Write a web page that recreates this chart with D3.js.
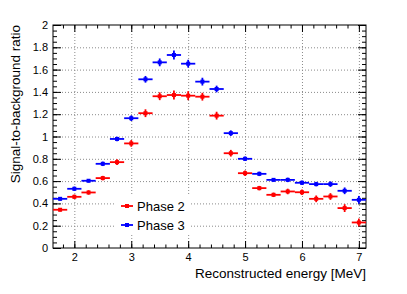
<!DOCTYPE html>
<html>
<head>
<meta charset="utf-8">
<script src="https://cdn.jsdelivr.net/npm/d3@7"></script>
<style>
  body { margin: 0; background: #fff; }
  svg text { font-family: "Liberation Sans", Arial, sans-serif; fill: #000; }
</style>
</head>
<body>
<div id="chart"></div>
<script>
const width = 407;
const height = 294;
const margin = { top: 25, right: 41, bottom: 46, left: 53 };

// bin centres [MeV], bin width 0.25
const energy = [1.75, 2.0, 2.25, 2.5, 2.75, 3.0, 3.25, 3.5, 3.75, 4.0, 4.25,
  4.5, 4.75, 5.0, 5.25, 5.5, 5.75, 6.0, 6.25, 6.5, 6.75, 7.0];
const binHalf = 0.125;

const phase2 = [0.343, 0.459, 0.498, 0.627, 0.770, 0.938, 1.209, 1.361, 1.372, 1.366, 1.357,
  1.187, 0.850, 0.671, 0.537, 0.477, 0.507, 0.500, 0.441, 0.462, 0.358, 0.229];
const phase2Err = [0.015, 0.02, 0.02, 0.02, 0.025, 0.03, 0.035, 0.035, 0.04, 0.04, 0.035,
  0.035, 0.03, 0.025, 0.02, 0.02, 0.025, 0.025, 0.03, 0.03, 0.035, 0.035];

const phase3 = [0.441, 0.531, 0.603, 0.755, 0.978, 1.164, 1.513, 1.665, 1.731, 1.653, 1.492,
  1.426, 1.030, 0.800, 0.665, 0.611, 0.611, 0.585, 0.573, 0.573, 0.513, 0.432];
const phase3Err = [0.015, 0.02, 0.015, 0.02, 0.02, 0.025, 0.03, 0.035, 0.04, 0.035, 0.035,
  0.03, 0.025, 0.02, 0.02, 0.015, 0.02, 0.02, 0.02, 0.025, 0.03, 0.035];

const xMajor = [2, 3, 4, 5, 6, 7];
const yMajor = [0, 0.2, 0.4, 0.6, 0.8, 1, 1.2, 1.4, 1.6, 1.8, 2];

const series = [
  { name: "Phase 2", color: "#ff0000", values: phase2, errors: phase2Err },
  { name: "Phase 3", color: "#0000ff", values: phase3, errors: phase3Err }
];

const x = d3.scaleLinear().domain([1.625, 7.125]).range([margin.left, width - margin.right]);
const y = d3.scaleLinear().domain([0, 2]).range([height - margin.bottom, margin.top]);

const xMinor = d3.range(1.8, 7.1, 0.2).map(v => +v.toFixed(1));
const yMinor = d3.range(0, 2.001, 0.05).map(v => +v.toFixed(2));

var svg = d3.select("#chart").append("svg")
  .attr("width", width)
  .attr("height", height);

const pLeft = x.range()[0], pRight = x.range()[1];
const pTop = y.range()[1], pBottom = y.range()[0];

// grid
svg.append("g")
  .attr("transform", `translate(0,${pBottom})`)
  .call(d3.axisBottom(x).tickValues(xMajor).tickSize(-(pBottom - pTop)).tickFormat(""))
  .call(g => g.select(".domain").remove())
  .selectAll("line")
  .attr("stroke", "#8a8a8a")
  .attr("stroke-dasharray", "1,2");

svg.append("g")
  .attr("transform", `translate(${pLeft},0)`)
  .call(d3.axisLeft(y).tickValues(yMajor.slice(1, -1)).tickSize(-(pRight - pLeft)).tickFormat(""))
  .call(g => g.select(".domain").remove())
  .selectAll("line")
  .attr("stroke", "#8a8a8a")
  .attr("stroke-dasharray", "1,2");

// legend background hides grid
svg.append("rect")
  .attr("x", 115).attr("y", 195)
  .attr("width", 75).attr("height", 38)
  .attr("fill", "#fff");

// axes ticks
function axisStyle(g) {
  g.select(".domain").remove();
  g.selectAll("line").attr("stroke", "#000").attr("stroke-width", 1);
  g.selectAll("text").style("font-size", "11px");
}

svg.append("g")
  .attr("transform", `translate(0,${pBottom})`)
  .call(d3.axisBottom(x).tickValues(xMinor).tickSize(-3.5).tickFormat(""))
  .call(axisStyle);
svg.append("g")
  .attr("transform", `translate(0,${pBottom})`)
  .call(d3.axisBottom(x).tickValues(xMajor).tickSize(-7).tickPadding(5).tickFormat(d3.format("d")))
  .call(axisStyle);
svg.append("g")
  .attr("transform", `translate(0,${pTop})`)
  .call(d3.axisTop(x).tickValues(xMinor).tickSize(-3.5).tickFormat(""))
  .call(axisStyle);
svg.append("g")
  .attr("transform", `translate(0,${pTop})`)
  .call(d3.axisTop(x).tickValues(xMajor).tickSize(-7).tickFormat(""))
  .call(axisStyle);

svg.append("g")
  .attr("transform", `translate(${pLeft},0)`)
  .call(d3.axisLeft(y).tickValues(yMinor).tickSize(-4).tickFormat(""))
  .call(axisStyle);
svg.append("g")
  .attr("transform", `translate(${pLeft},0)`)
  .call(d3.axisLeft(y).tickValues(yMajor).tickSize(-8).tickPadding(5).tickFormat(d => String(+d.toFixed(1))))
  .call(axisStyle);
svg.append("g")
  .attr("transform", `translate(${pRight},0)`)
  .call(d3.axisRight(y).tickValues(yMinor).tickSize(-4).tickFormat(""))
  .call(axisStyle);
svg.append("g")
  .attr("transform", `translate(${pRight},0)`)
  .call(d3.axisRight(y).tickValues(yMajor).tickSize(-8).tickFormat(""))
  .call(axisStyle);

// frame
svg.append("rect")
  .attr("x", pLeft).attr("y", pTop)
  .attr("width", pRight - pLeft).attr("height", pBottom - pTop)
  .attr("fill", "none").attr("stroke", "#000").attr("stroke-width", 1);

// data points with error bars
series.forEach(s => {
  const g = svg.append("g");
  const pts = energy.map((e, i) => ({ e: e, v: s.values[i], err: s.errors[i] }));
  g.selectAll(".hbar").data(pts).enter().append("line")
    .attr("x1", d => x(d.e - binHalf)).attr("x2", d => x(d.e + binHalf))
    .attr("y1", d => y(d.v)).attr("y2", d => y(d.v))
    .attr("stroke", s.color).attr("stroke-width", 1.8);
  g.selectAll(".vbar").data(pts).enter().append("line")
    .attr("x1", d => x(d.e)).attr("x2", d => x(d.e))
    .attr("y1", d => y(d.v - d.err)).attr("y2", d => y(d.v + d.err))
    .attr("stroke", s.color).attr("stroke-width", 1.8);
  g.selectAll("rect").data(pts).enter().append("rect")
    .attr("x", d => x(d.e) - 2).attr("y", d => y(d.v) - 2)
    .attr("width", 4).attr("height", 4)
    .attr("fill", s.color);
});

// legend
series.forEach((s, i) => {
  const ly = 206 + i * 19;
  svg.append("line")
    .attr("x1", 121).attr("x2", 133).attr("y1", ly).attr("y2", ly)
    .attr("stroke", s.color).attr("stroke-width", 1.8);
  svg.append("rect")
    .attr("x", 125).attr("y", ly - 2).attr("width", 4).attr("height", 4)
    .attr("fill", s.color);
  svg.append("text")
    .attr("x", 137).attr("y", ly)
    .attr("dy", "0.36em")
    .style("font-size", "13px")
    .text(s.name);
});

// axis titles
svg.append("text")
  .attr("x", pRight).attr("y", 278)
  .attr("text-anchor", "end")
  .style("font-size", "13.5px")
  .text("Reconstructed energy [MeV]");

svg.append("text")
  .attr("transform", `translate(19.5,${pTop}) rotate(-90)`)
  .attr("text-anchor", "end")
  .style("font-size", "13.5px")
  .text("Signal-to-background ratio");
</script>
</body>
</html>
